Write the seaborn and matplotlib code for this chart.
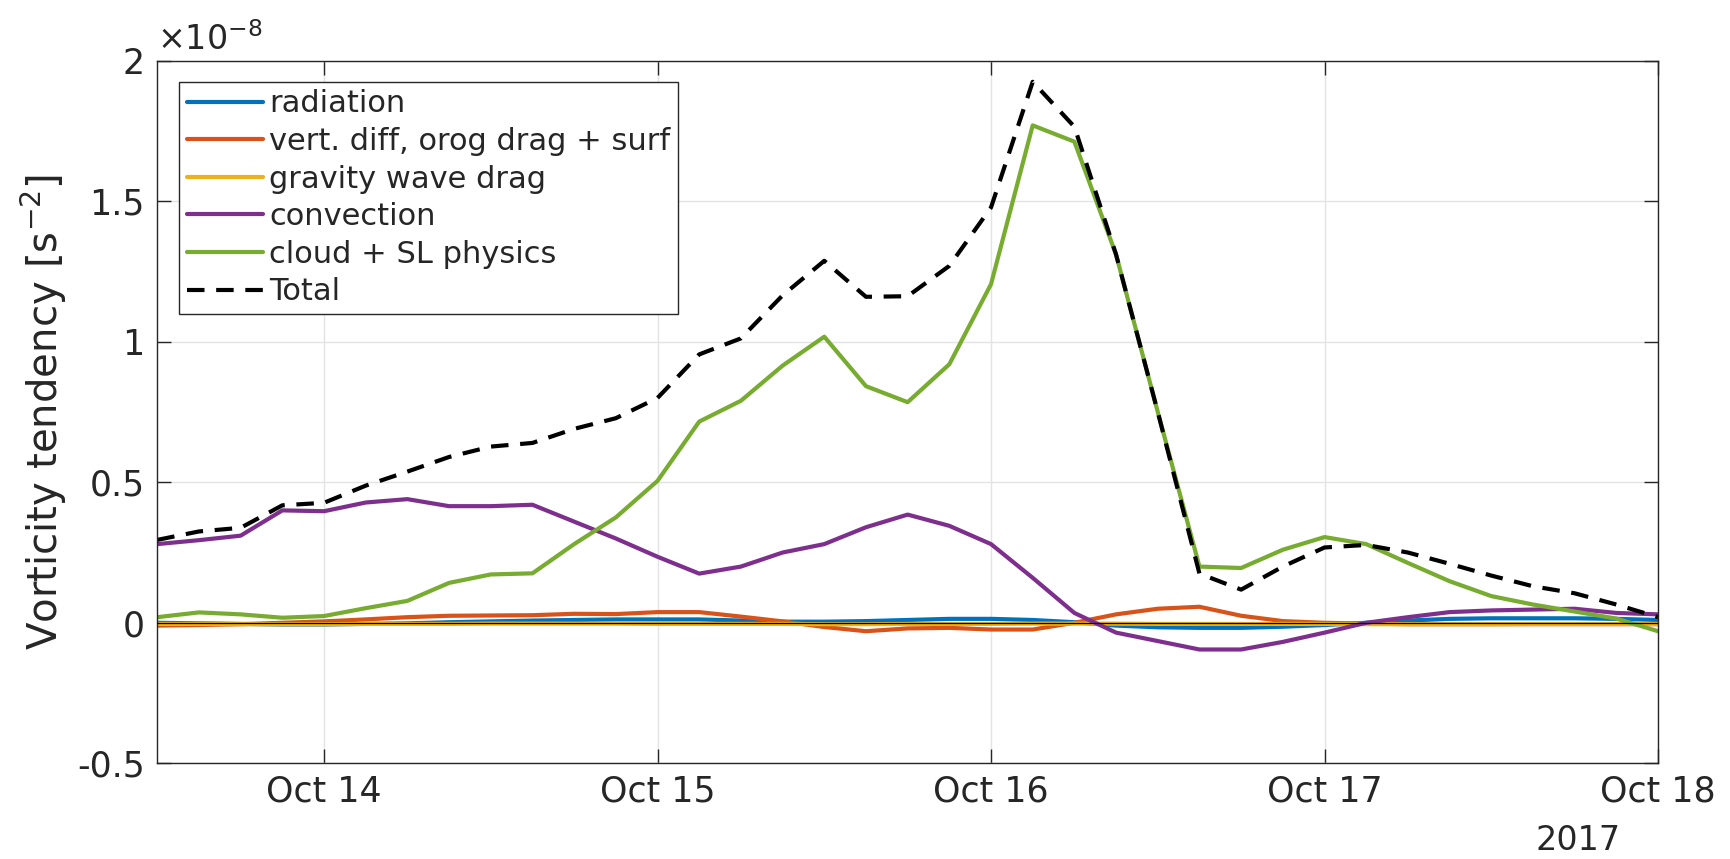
import matplotlib
matplotlib.use("Agg")
import matplotlib.pyplot as plt
import matplotlib.dates as mdates
import numpy as np
import pandas as pd
import seaborn as sns

# 3-hourly output, Oct 13 12:00 -> Oct 18 00:00 (values in units of 1e-8 s^-2)
times = pd.date_range("2017-10-13 12:00", "2017-10-18 00:00", freq="3h")

radiation = [0.0, -0.002, -0.004, -0.006, -0.006, -0.004, -0.002, 0.002, 0.005, 0.008,
             0.010, 0.012, 0.012, 0.012, 0.008, 0.004, 0.004, 0.006, 0.010, 0.014,
             0.014, 0.010, 0.002, -0.010, -0.016, -0.018, -0.018, -0.014, -0.008, 0.000,
             0.008, 0.014, 0.016, 0.016, 0.016, 0.014, 0.010]
vert_diff = [-0.010, -0.008, -0.005, 0.000, 0.005, 0.012, 0.020, 0.025, 0.026, 0.027,
             0.032, 0.031, 0.038, 0.038, 0.022, 0.005, -0.015, -0.030, -0.020, -0.018,
             -0.024, -0.024, 0.000, 0.030, 0.050, 0.057, 0.025, 0.006, 0.000, -0.003,
             -0.005, -0.005, -0.005, -0.005, -0.005, -0.005, -0.005]
gw_drag = [-0.004, -0.004, -0.005, -0.005, -0.005, -0.004, -0.004, -0.004, -0.003, -0.003,
           -0.003, -0.003, -0.004, -0.004, -0.004, -0.004, -0.005, -0.005, -0.004, -0.004,
           -0.004, -0.003, -0.003, -0.003, -0.004, -0.004, -0.004, -0.004, -0.004, -0.005,
           -0.005, -0.005, -0.005, -0.004, -0.004, -0.004, -0.004]
convection = [0.280, 0.294, 0.310, 0.400, 0.397, 0.428, 0.440, 0.415, 0.415, 0.420,
              0.360, 0.300, 0.235, 0.175, 0.200, 0.250, 0.280, 0.340, 0.385, 0.345,
              0.280, 0.160, 0.035, -0.035, -0.065, -0.095, -0.095, -0.068, -0.035, 0.000,
              0.020, 0.038, 0.044, 0.047, 0.050, 0.035, 0.030]
cloud = [0.020, 0.037, 0.030, 0.018, 0.024, 0.052, 0.078, 0.142, 0.172, 0.176,
         0.280, 0.375, 0.505, 0.716, 0.790, 0.915, 1.018, 0.842, 0.785, 0.920,
         1.205, 1.770, 1.712, 1.310, 0.750, 0.200, 0.195, 0.260, 0.305, 0.280,
         0.213, 0.148, 0.095, 0.065, 0.040, 0.015, -0.030]
total = [0.295, 0.325, 0.338, 0.418, 0.427, 0.488, 0.538, 0.590, 0.627, 0.640,
         0.690, 0.728, 0.800, 0.955, 1.012, 1.165, 1.288, 1.160, 1.162, 1.270,
         1.478, 1.925, 1.765, 1.310, 0.750, 0.175, 0.118, 0.200, 0.268, 0.277,
         0.250, 0.210, 0.168, 0.130, 0.105, 0.065, 0.020]

labels = ["radiation", "vert. diff, orog drag + surf", "gravity wave drag",
          "convection", "cloud + SL physics", "Total"]
colors = ["#0072BD", "#D95319", "#EDB120", "#7E2F8E", "#77AC30", "black"]
y_ticks = [-0.5, 0, 0.5, 1, 1.5, 2]

df = pd.DataFrame({"time": times, labels[0]: radiation, labels[1]: vert_diff,
                   labels[2]: gw_drag, labels[3]: convection, labels[4]: cloud,
                   labels[5]: total})

sns.set_style("ticks")
plt.rcParams["font.family"] = ["DejaVu Sans"]
plt.rcParams["mathtext.fontset"] = "dejavusans"
plt.rcParams["axes.unicode_minus"] = False
txt = "#262626"

fig = plt.figure(figsize=(17.3, 8.59), dpi=100)
ax = fig.add_axes([0.0909, 0.1114, 0.8675, 0.8179])

for lab, col in zip(labels, colors):
    ls = (0, (4.2, 2.8)) if lab == "Total" else "-"
    sns.lineplot(x="time", y=lab, data=df, ax=ax, color=col, linewidth=3.0,
                 linestyle=ls, label=lab)

# thin zero reference line drawn over the near-zero terms
ax.axhline(0, color="black", linewidth=0.9, zorder=3)

ax.set_xlim(times[0], times[-1])
ax.set_ylim(-0.5, 2)
ax.set_yticks(y_ticks)
ax.yaxis.set_major_formatter(matplotlib.ticker.FuncFormatter(lambda v, p: "%g" % v))
ax.xaxis.set_major_locator(mdates.DayLocator())
ax.xaxis.set_major_formatter(mdates.DateFormatter("%b %d"))

ax.grid(True, color="#e3e3e3", linewidth=1.0)
ax.set_axisbelow(True)
for s in ax.spines.values():
    s.set_color(txt)
    s.set_linewidth(1.0)
ax.tick_params(direction="in", length=10, width=1.0, colors=txt, labelsize=25,
               top=True, right=True)
ax.tick_params(axis="x", pad=8)
ax.tick_params(axis="y", pad=9)

ax.set_xlabel("")
ax.set_ylabel(r"Vorticity tendency [s$^{-2}$]", fontsize=29, color=txt, labelpad=6)

ax.text(0.0, 1.006, r"$\times10^{-8}$", transform=ax.transAxes, ha="left",
        va="bottom", fontsize=24, color=txt)
ax.text(0.9467, -0.1234, "2017", transform=ax.transAxes, ha="center", va="baseline",
        fontsize=24, color=txt)

leg = ax.legend(loc="upper left", bbox_to_anchor=(0.0145, 0.970), borderaxespad=0,
                fontsize=22, frameon=True, fancybox=False, framealpha=1,
                edgecolor=txt, handlelength=2.5, handletextpad=0.2,
                labelspacing=0.28, borderpad=0.25)
leg.get_frame().set_linewidth(1.0)
for t in leg.get_texts():
    t.set_color(txt)

fig.savefig("out.png", dpi=100)
